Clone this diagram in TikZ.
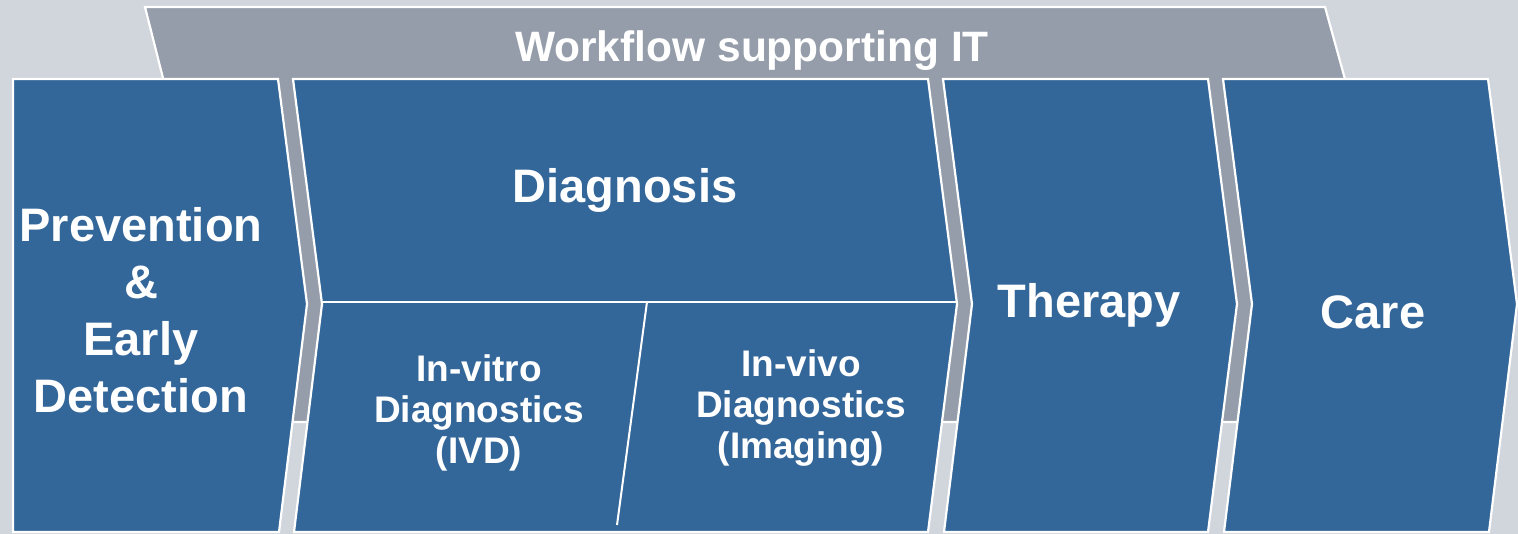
\documentclass[tikz,border=0pt]{standalone}
\usepackage{fontspec}
\setmainfont{Liberation Sans}
\definecolor{bgcol}{RGB}{209,213,220}
\definecolor{bandgray}{RGB}{148,157,169}
\definecolor{chevblue}{RGB}{51,102,153}
\begin{document}
\begin{tikzpicture}[x=1pt,y=-1pt,
  chev/.style={fill=chevblue, draw=white, line width=2.2pt, line join=miter},
  band/.style={fill=bandgray, draw=white, line width=2.2pt, line join=miter},
  divline/.style={draw=white, line width=2.2pt},
  bigtxt/.style={text=white, font=\fontsize{47}{57}\selectfont\bfseries, align=center, inner sep=0pt},
  smalltxt/.style={text=white, font=\fontsize{37}{41}\selectfont\bfseries, align=center, inner sep=0pt},
  bandtxt/.style={text=white, font=\fontsize{42.5}{50}\selectfont\bfseries, inner sep=0pt}]
\useasboundingbox (0,0) rectangle (1518,534);
\fill[bgcol] (0,0) rectangle (1518,534);
% gray workflow band
\path[band] (145,7) -- (1325,7) -- (1440,422) -- (250,422) -- cycle;
% chevrons
\path[chev] (13,79) -- (278,79) -- (307,304) -- (279,532) -- (13,532) -- cycle;
\path[chev] (293,79) -- (928,79) -- (957,304) -- (928,532) -- (294,532) -- (322,304) -- cycle;
\path[chev] (943,79) -- (1208,79) -- (1237,304) -- (1208,532) -- (944,532) -- (972,304) -- cycle;
\path[chev] (1223,79) -- (1488,79) -- (1517,304) -- (1489,532) -- (1224,532) -- (1252,304) -- cycle;
% diagnosis subdivisions
\coordinate (dl) at (322,302);
\coordinate (dr) at (957,302);
\coordinate (st) at (647,302);
\coordinate (sb) at (617,525);
\draw[divline] (dl) -- (dr);
\draw[divline, line width=2pt] (st) -- (sb);
% texts
\node[bandtxt, anchor=base] (wf) at (752,62) {Workflow supporting IT};
\node[bigtxt] (prev) at (141,310.7) {Prevention\\\&\\Early\\Detection};
\node[bigtxt, anchor=base] (diag) at (625,203) {Diagnosis};
\node[bigtxt, anchor=base] (ther) at (1089,318) {Therapy};
\node[bigtxt, anchor=base] (care) at (1373,329) {Care};
\node[smalltxt] (ivd) at (479,412.6) {In-vitro\\Diagnostics\\(IVD)};
\node[smalltxt] (img) at (801,408) {In-vivo\\Diagnostics\\(Imaging)};
\end{tikzpicture}
\end{document}
